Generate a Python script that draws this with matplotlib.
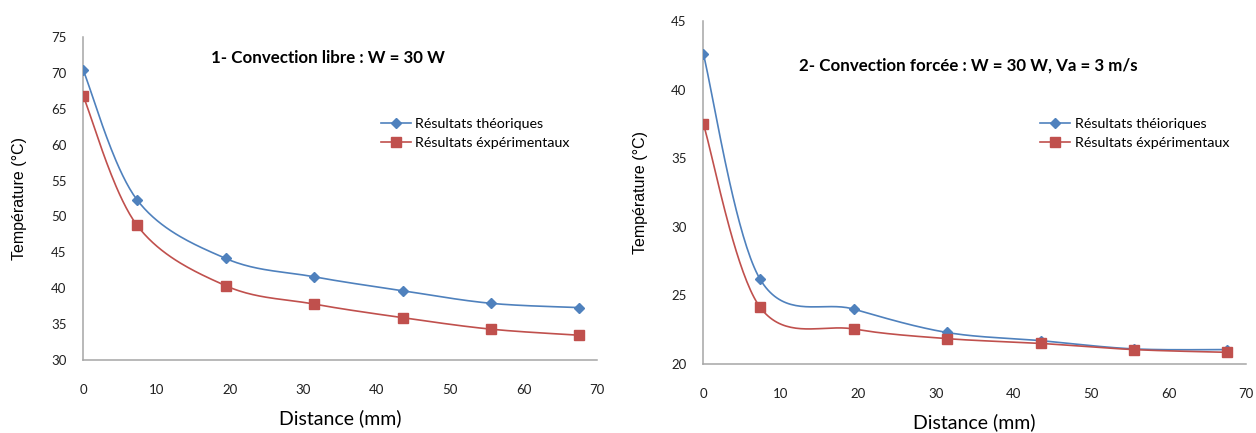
import numpy as np
import matplotlib
matplotlib.use("Agg")
import matplotlib.pyplot as plt

plt.rcParams['font.family'] = ['Lato', 'DejaVu Sans']

# distances (mm) of the measuring points
distance = [0, 7.3, 19.4, 31.4, 43.5, 55.5, 67.6]

# 1- convection libre
libre_theo = [70.35, 52.35, 44.15, 41.6, 39.65, 37.9, 37.3]
libre_exp = [66.75, 48.8, 40.35, 37.8, 35.9, 34.3, 33.45]

# 2- convection forcee
forcee_theo = [42.6, 26.2, 24.0, 22.3, 21.7, 21.1, 21.05]
forcee_exp = [37.5, 24.15, 22.55, 21.85, 21.5, 21.05, 20.85]

blue = '#4F81BD'
red = '#C0504D'
axis_grey = '#A6A6A6'


def smooth(x, y, n=40):
    # excel-like smoothed line (catmull-rom as bezier segments)
    x = np.asarray(x, float)
    y = np.asarray(y, float)
    px = np.concatenate([[x[0]], x, [x[-1]]])
    py = np.concatenate([[y[0]], y, [y[-1]]])
    t = np.linspace(0, 1, n)[:, None]
    xs, ys = [], []
    for i in range(1, len(px) - 2):
        p0 = np.array([px[i], py[i]])
        p3 = np.array([px[i + 1], py[i + 1]])
        c1 = p0 + (np.array([px[i + 1], py[i + 1]]) - np.array([px[i - 1], py[i - 1]])) / 6
        c2 = p3 - (np.array([px[i + 2], py[i + 2]]) - np.array([px[i], py[i]])) / 6
        b = ((1 - t) ** 3) * p0 + 3 * ((1 - t) ** 2) * t * c1 + 3 * (1 - t) * t ** 2 * c2 + t ** 3 * p3
        xs.append(b[:, 0])
        ys.append(b[:, 1])
    return np.concatenate(xs), np.concatenate(ys)


def draw(ax, theo, exp, labels, title, title_xy, ylim, yticks, leg_xy):
    sx, sy = smooth(distance, theo)
    ax.plot(sx, sy, color=blue, lw=1.2, zorder=2)
    sx, sy = smooth(distance, exp)
    ax.plot(sx, sy, color=red, lw=1.2, zorder=2)
    ax.plot(distance, theo, ls='none', marker='D', ms=5, color=blue, zorder=3)
    ax.plot(distance, exp, ls='none', marker='s', ms=7, color=red, zorder=3)

    # legend proxies
    h1, = ax.plot([], [], color=blue, lw=1.2, marker='D', ms=5)
    h2, = ax.plot([], [], color=red, lw=1.2, marker='s', ms=7)
    ax.legend([h1, h2], labels, loc='center left', bbox_to_anchor=leg_xy,
              frameon=False, fontsize=10.3, handlelength=2.1, handletextpad=0.3,
              labelspacing=0.5, borderaxespad=0, borderpad=0)

    ax.set_xlim(0, 70)
    ax.set_ylim(*ylim)
    ax.set_xticks(range(0, 71, 10))
    ax.set_yticks(yticks)
    ax.tick_params(length=0, labelsize=9.5, colors='#202020')
    ax.tick_params(axis='x', pad=17)
    ax.tick_params(axis='y', pad=12)
    for s in ['top', 'right']:
        ax.spines[s].set_visible(False)
    for s in ['left', 'bottom']:
        ax.spines[s].set_color(axis_grey)
        ax.spines[s].set_linewidth(1.1)
    ax.text(title_xy[0], title_xy[1], title, ha='center', va='center',
            fontsize=12.2, fontweight='bold', color='black')
    ax.set_xlabel('Distance (mm)', fontsize=14, labelpad=10)
    ax.set_ylabel('Température (°C)', fontsize=11.5, family='Liberation Sans',
                  labelpad=17)


fig = plt.figure(figsize=(12.56, 4.33), dpi=100)
ax1 = fig.add_axes([0.0663, 0.1686, 0.409, 0.746])
ax2 = fig.add_axes([0.560, 0.1594, 0.432, 0.792])

draw(ax1, libre_theo, libre_exp,
     ['Résultats théoriques', 'Résultats éxpérimentaux'],
     '1- Convection libre : W = 30 W', (33.3, 72.1),
     (30, 75), range(30, 76, 5), (0.579, 0.70))
draw(ax2, forcee_theo, forcee_exp,
     ['Résultats théioriques', 'Résultats éxpérimentaux'],
     '2- Convection forcée : W = 30 W, Va = 3 m/s', (34.2, 41.77),
     (20, 45), range(20, 46, 5), (0.621, 0.672))

fig.savefig('out.png', dpi=100)
